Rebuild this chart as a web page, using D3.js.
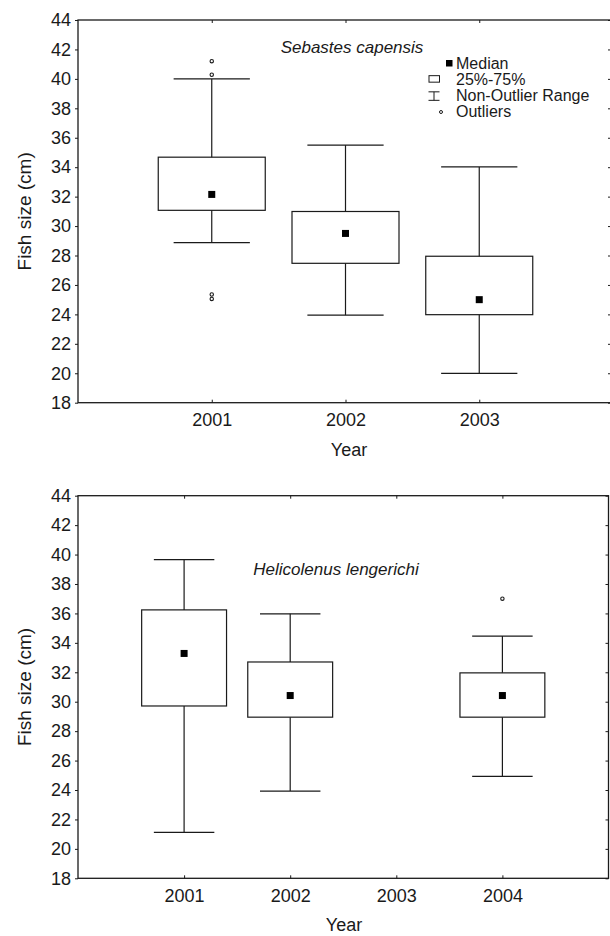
<!DOCTYPE html>
<html>
<head>
<meta charset="utf-8">
<script src="https://cdn.jsdelivr.net/npm/d3@7"></script>
<style>
  body { margin: 0; background: #fff; }
  svg { display: block; font-family: "Liberation Sans", Arial, sans-serif; }
</style>
</head>
<body>
<svg width="610" height="936"></svg>
<script>
// y axis ticks shared by both panels
const yTickValues = [18, 20, 22, 24, 26, 28, 30, 32, 34, 36, 38, 40, 42, 44];

// Sebastes capensis
const yearsA = [2001, 2002, 2003];
const tickYearsA = [2001, 2002, 2003];
const medianA = [32.15, 29.5, 25.0];
const q1A = [31.07, 27.47, 23.98];
const q3A = [34.68, 30.99, 27.95];
const lowA = [28.88, 23.95, 19.99];
const highA = [40.0, 35.5, 34.02];
const outliersA = [[41.2, 40.28, 25.35, 25.05], [], []];

// Helicolenus lengerichi
const yearsB = [2001, 2002, 2004];
const tickYearsB = [2001, 2002, 2003, 2004];
const medianB = [33.28, 30.42, 30.42];
const q1B = [29.71, 28.95, 28.95];
const q3B = [36.24, 32.7, 31.96];
const lowB = [21.12, 23.93, 24.93];
const highB = [39.65, 35.97, 34.46];
const outliersB = [[], [], [37.0]];

const legendLabels = ['Median', '25%-75%', 'Non-Outlier Range', 'Outliers'];

const ink = '#1a1a1a';
const svg = d3.select('svg');

function panel(cfg) {
  const x = d3.scaleLinear().domain(cfg.xDomain).range([cfg.left, cfg.right]);
  const y = d3.scaleLinear().domain([18, 44]).range([cfg.bottom, cfg.top]);
  const unit = x(1) - x(0);
  const g = svg.append('g');

  // frame
  g.append('rect')
    .attr('x', cfg.left).attr('y', cfg.top)
    .attr('width', cfg.right - cfg.left).attr('height', cfg.bottom - cfg.top)
    .attr('fill', 'none').attr('stroke', ink).attr('stroke-width', 1.3);

  // left axis
  g.append('g')
    .attr('transform', `translate(${cfg.left},0)`)
    .call(d3.axisLeft(y).tickValues(yTickValues).tickSize(3).tickPadding(4))
    .call(a => a.select('.domain').remove())
    .call(a => a.selectAll('line').attr('stroke', ink))
    .call(a => a.selectAll('text').attr('font-size', 18).attr('fill', ink)
      .attr('font-family', '"Liberation Sans", Arial, sans-serif'));

  // right ticks (inward)
  g.append('g')
    .attr('transform', `translate(${cfg.rightTickX},0)`)
    .call(d3.axisRight(y).tickValues(yTickValues).tickSize(-3).tickFormat(''))
    .call(a => a.select('.domain').remove())
    .call(a => a.selectAll('line').attr('stroke', ink));

  // bottom axis (inward ticks)
  g.append('g')
    .attr('transform', `translate(0,${cfg.bottom})`)
    .call(d3.axisBottom(x).tickValues(cfg.tickYears).tickSize(-3).tickPadding(11)
      .tickFormat(d3.format('d')))
    .call(a => a.select('.domain').remove())
    .call(a => a.selectAll('line').attr('stroke', ink))
    .call(a => a.selectAll('text').attr('font-size', 18).attr('fill', ink)
      .attr('font-family', '"Liberation Sans", Arial, sans-serif'));

  // top ticks (inward)
  g.append('g')
    .attr('transform', `translate(0,${cfg.top})`)
    .call(d3.axisTop(x).tickValues(cfg.tickYears).tickSize(-3).tickFormat(''))
    .call(a => a.select('.domain').remove())
    .call(a => a.selectAll('line').attr('stroke', ink));

  // axis titles
  g.append('text')
    .attr('transform', `translate(31,${(cfg.top + cfg.bottom) / 2}) rotate(-90)`)
    .attr('text-anchor', 'middle').attr('font-size', 19).attr('fill', ink)
    .text('Fish size (cm)');
  g.append('text')
    .attr('x', cfg.yearX).attr('y', cfg.bottom + 53)
    .attr('text-anchor', 'middle').attr('font-size', 18).attr('fill', ink)
    .text('Year');

  // species title
  g.append('text')
    .attr('x', cfg.titleX).attr('y', cfg.titleY)
    .attr('text-anchor', 'middle').attr('font-size', 17).attr('font-style', 'italic')
    .attr('fill', ink)
    .text(cfg.title);

  const boxes = cfg.years.map((yr, i) => ({
    year: yr, median: cfg.median[i], q1: cfg.q1[i], q3: cfg.q3[i],
    low: cfg.low[i], high: cfg.high[i], out: cfg.outliers[i]
  }));

  const bw = unit * 0.8;
  const cw = unit * 0.57;
  const box = g.selectAll('.box').data(boxes).enter().append('g')
    .attr('class', 'box').attr('stroke', ink).attr('stroke-width', 1.2);

  box.append('line')
    .attr('x1', d => x(d.year)).attr('x2', d => x(d.year))
    .attr('y1', d => y(d.high)).attr('y2', d => y(d.q3));
  box.append('line')
    .attr('x1', d => x(d.year)).attr('x2', d => x(d.year))
    .attr('y1', d => y(d.q1)).attr('y2', d => y(d.low));
  box.append('line')
    .attr('x1', d => x(d.year) - cw / 2).attr('x2', d => x(d.year) + cw / 2)
    .attr('y1', d => y(d.high)).attr('y2', d => y(d.high));
  box.append('line')
    .attr('x1', d => x(d.year) - cw / 2).attr('x2', d => x(d.year) + cw / 2)
    .attr('y1', d => y(d.low)).attr('y2', d => y(d.low));
  box.append('rect')
    .attr('x', d => x(d.year) - bw / 2).attr('width', bw)
    .attr('y', d => y(d.q3)).attr('height', d => y(d.q1) - y(d.q3))
    .attr('fill', 'none');
  box.append('rect')
    .attr('x', d => x(d.year) - 3.5).attr('y', d => y(d.median) - 3.5)
    .attr('width', 7).attr('height', 7)
    .attr('fill', '#000').attr('stroke', 'none');
  box.selectAll('circle').data(d => d.out.map(v => ({ year: d.year, v }))).enter()
    .append('circle')
    .attr('cx', d => x(d.year)).attr('cy', d => y(d.v)).attr('r', 1.7)
    .attr('fill', '#fff').attr('stroke-width', 1.1);

  return g;
}

panel({
  title: 'Sebastes capensis', titleX: 352, titleY: 53,
  xDomain: [2000, 2004], left: 78, right: 613, rightTickX: 611,
  top: 20, bottom: 402.7, yearX: 349,
  years: yearsA, tickYears: tickYearsA, median: medianA, q1: q1A, q3: q3A,
  low: lowA, high: highA, outliers: outliersA
});

panel({
  title: 'Helicolenus lengerichi', titleX: 336, titleY: 575,
  xDomain: [2000, 2005], left: 78, right: 608.5, rightTickX: 608.5,
  top: 495.7, bottom: 878.3, yearX: 344,
  years: yearsB, tickYears: tickYearsB, median: medianB, q1: q1B, q3: q3B,
  low: lowB, high: highB, outliers: outliersB
});

// legend (top panel)
const legend = svg.append('g').attr('fill', ink).attr('stroke', ink);
const legendY = d3.scaleLinear().domain([0, 3]).range([68.5, 117]);
legend.selectAll('text').data(legendLabels).enter().append('text')
  .attr('x', 456).attr('y', (d, i) => legendY(i))
  .attr('font-size', 16).attr('stroke', 'none')
  .text(d => d);
legend.append('rect').attr('x', 446).attr('y', legendY(0) - 8.5)
  .attr('width', 6.5).attr('height', 6.5).attr('stroke', 'none').attr('fill', '#000');
legend.append('rect').attr('x', 429).attr('y', legendY(1) - 9)
  .attr('width', 10.5).attr('height', 6.5).attr('fill', 'none').attr('stroke-width', 1);
legend.append('path')
  .attr('d', `M428.5,${legendY(2) - 9}H439.5M428.5,${legendY(2) - 0.5}H439.5M434,${legendY(2) - 9}V${legendY(2) - 0.5}`)
  .attr('fill', 'none').attr('stroke-width', 1);
legend.append('circle').attr('cx', 441).attr('cy', legendY(3) - 5).attr('r', 1.5)
  .attr('fill', '#fff').attr('stroke-width', 1);
</script>
</body>
</html>
